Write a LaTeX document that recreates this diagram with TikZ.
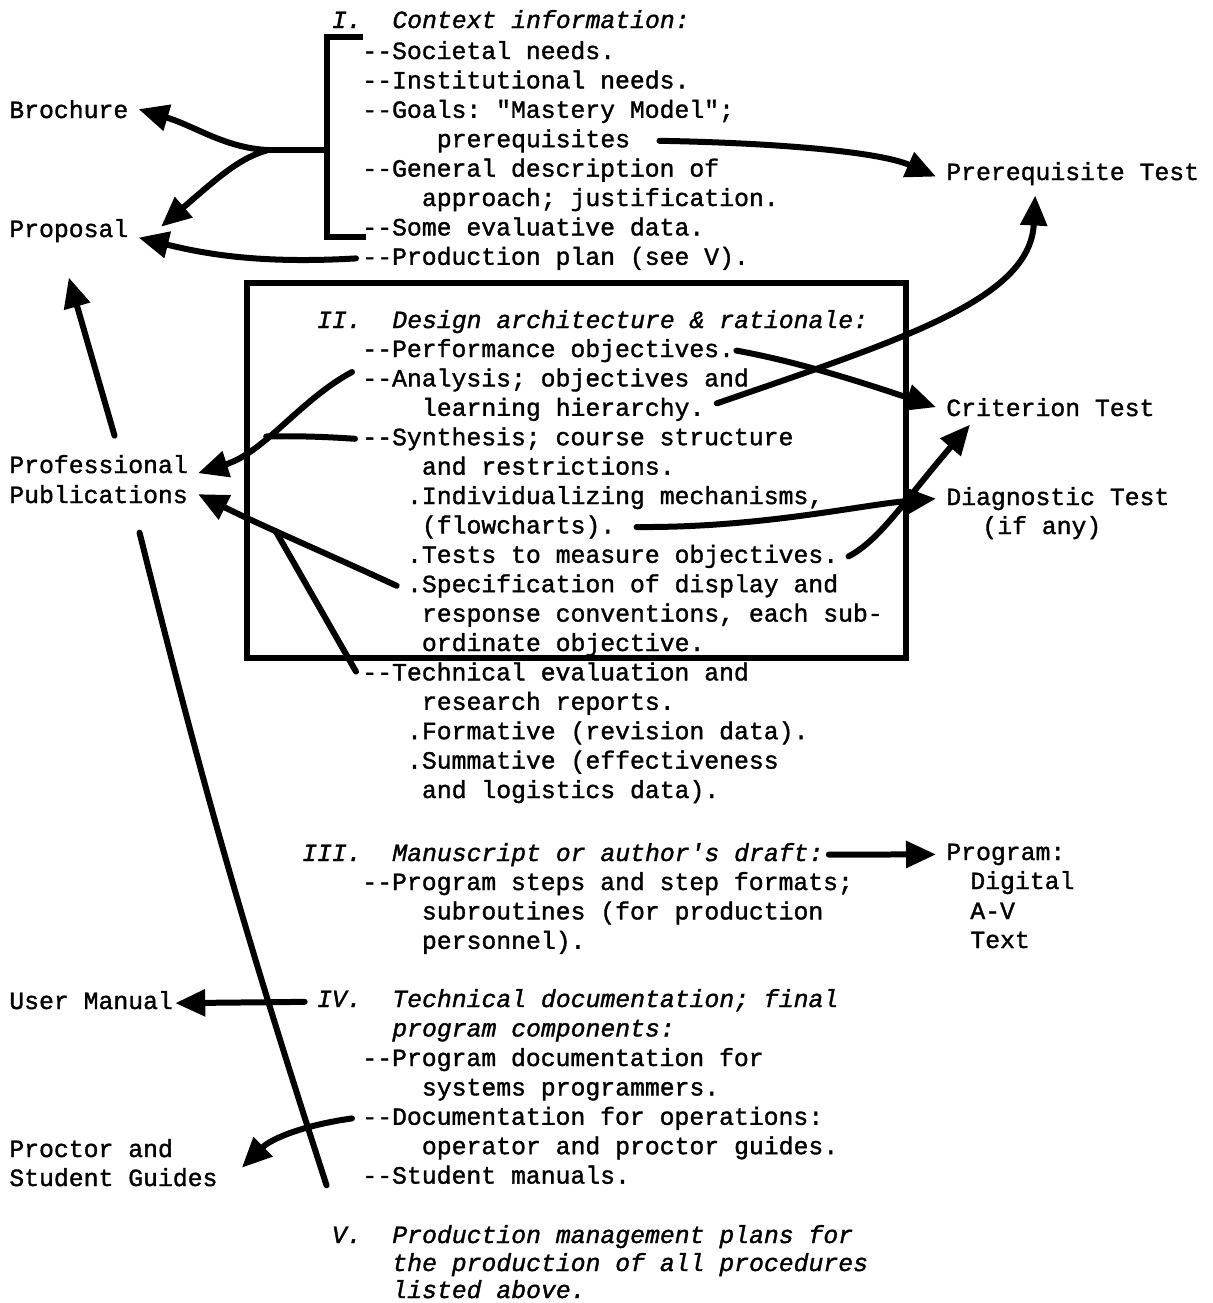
\documentclass[tikz,border=0pt]{standalone}
\usepackage{fontspec}
\setmonofont[FakeBold=1.4, ItalicFeatures={FakeBold=1.4}]{Liberation Mono}
\usetikzlibrary{arrows.meta}
\newcommand{\typesz}{\fontsize{14.1pt}{17pt}\selectfont}
\tikzset{
  txt/.style={anchor=base west, inner sep=0pt, font=\ttfamily\typesz},
  numeral/.style={anchor=base east, inner sep=0pt, font=\ttfamily\itshape\typesz},
  heading/.style={txt, font=\ttfamily\itshape\typesz},
  target/.style={txt, inner xsep=0.2cm},
  wire/.style={line width=0.12cm, line cap=round},
  flow/.style={wire, -{Triangle[length=0.6cm,width=0.52cm]}}
}
\begin{document}
\begin{tikzpicture}[x=0.02cm,y=-0.02cm]
    \useasboundingbox (0,0) rectangle (1213,1303);

    % Drawing outputs on the left
    \draw (-1,118) node [target] (brochure) {Brochure};%
    \draw (-1,237) node [target] (proposal) {Proposal};%
    \draw (-1,473) node [target] (professional) {Professional};%
    \draw (-1,503) node [target] (publications) {Publications};%
    \draw (7,1009) node [target, inner xsep=0.04cm] (usermanual) {User Manual};%
    \draw (9,1157) node [txt] (proctor) {Proctor and};%
    \draw (-1,1186) node [target] (student) {Student Guides};%

    % Drawing outputs on the right
    \draw (936,180) node [target] (prereqtest) {Prerequisite Test};%
    \draw (936,416) node [target] (critest) {Criterion Test};%
    \draw (936,505) node [target] (diagtest) {Diagnostic Test};%
    \draw (982,534) node [txt] (ifany) {(if any)};%
    \draw (936,860) node [target] (program) {Program:};%
    \draw (970,889) node [txt] (digital) {Digital};%
    \draw (970,919) node [txt] (av) {A-V};%
    \draw (970,948) node [txt] (text) {Text};%

    % Drawing section I
    \draw (362,28) node [numeral] (headI) {I.};%
    \draw (392,28) node [heading] (cxhead) {Context information:};%
    \draw (362,59) node [txt] (societal) {--Societal needs.};%
    \draw (362,88.4) node [txt] (institutional) {--Institutional needs.};%
    \draw (362,117.8) node [txt] (goals) {--Goals: "Mastery Model";};%
    \draw (436.5,147.2) node [txt] (prereq) {prerequisites};%
    \draw (362,176.6) node [txt] (general) {--General description of};%
    \draw (421.6,206) node [txt] (approach) {approach; justification.};%
    \draw (362,235.4) node [txt] (someeval) {--Some evaluative data.};%
    \draw (362,264.8) node [txt] (prodplan) {--Production plan (see V).};%

    % Drawing section II and its frame
    \draw [line width=0.12cm] (247,283) rectangle (906,658);%
    \draw (362,328) node [numeral] (headII) {II.};%
    \draw (392,328) node [heading] (dshead) {Design architecture \& rationale:};%
    \draw (362,357) node [txt] (perform) {--Performance objectives.};%
    \draw (362,386.4) node [txt] (analysis) {--Analysis; objectives and};%
    \draw (421.6,415.8) node [txt] (learning) {learning hierarchy.};%
    \draw (362,445.2) node [txt] (synth) {--Synthesis; course structure};%
    \draw (421.6,474.6) node [txt] (restrict) {and restrictions.};%
    \draw (406.7,504) node [txt] (individ) {.Individualizing mechanisms,};%
    \draw (421.6,533.4) node [txt] (flowch) {(flowcharts).};%
    \draw (406.7,562.8) node [txt] (tests) {.Tests to measure objectives.};%
    \draw (406.7,592.2) node [txt] (specif) {.Specification of display and};%
    \draw (421.6,621.6) node [txt] (respconv) {response conventions, each sub-};%
    \draw (421.6,651) node [txt] (ordinate) {ordinate objective.};%
    \draw (362,680.4) node [txt] (techeval) {--Technical evaluation and};%
    \draw (421.6,709.8) node [txt] (research) {research reports.};%
    \draw (406.7,739.2) node [txt] (formative) {.Formative (revision data).};%
    \draw (406.7,768.6) node [txt] (summative) {.Summative (effectiveness};%
    \draw (421.6,798) node [txt] (logistics) {and logistics data).};%

    % Drawing section III
    \draw (362,861) node [numeral] (headIII) {III.};%
    \draw (392,861) node [heading] (mshead) {Manuscript or author's draft:};%
    \draw (362,890) node [txt] (progsteps) {--Program steps and step formats;};%
    \draw (421.6,919.4) node [txt] (subrout) {subroutines (for production};%
    \draw (421.6,948.8) node [txt] (personnel) {personnel).};%

    % Drawing section IV
    \draw (362,1007) node [numeral] (headIV) {IV.};%
    \draw (392,1007) node [heading] (tdhead) {Technical documentation; final};%
    \draw (392,1036.4) node [heading] (tdhead2) {program components:};%
    \draw (362,1066) node [txt] (progdoc) {--Program documentation for};%
    \draw (421.6,1095.4) node [txt] (systems) {systems programmers.};%
    \draw (362,1124.8) node [txt] (docops) {--Documentation for operations:};%
    \draw (421.6,1154.2) node [txt] (operator) {operator and proctor guides.};%
    \draw (362,1183.6) node [txt] (stmanuals) {--Student manuals.};%

    % Drawing section V
    \draw (362,1243) node [numeral] (headV) {V.};%
    \draw (392,1243) node [heading] (pmhead) {Production management plans for};%
    \draw (392,1271) node [heading] (pmhead2) {the production of all procedures};%
    \draw (392,1298) node [heading] (pmhead3) {listed above.};%

    % Drawing bracket of section I and its arrows
    \draw [wire, line cap=butt] (363,37) -- (327,37) -- (327,237) -- (366,237);%
    \coordinate (brmid) at (327,150);
    \coordinate (brfork) at (268,150);
    \draw [wire] (brmid) -- (brfork);%
    \draw [flow] (brfork) .. controls (225,148) and (195,126) .. (brochure.east);%
    \draw [flow] (brfork) .. controls (240,158) and (222,174) .. ([shift={(0.45cm,-0.16cm)}]proposal.north east);%
    \draw [flow] ([xshift=-0.12cm]prodplan.west) .. controls (260,264) and (205,254) .. ([yshift=-0.14cm]proposal.east);%
    \draw [flow] ([xshift=0.58cm]prereq.east) .. controls (780,143) and (880,152) .. ([yshift=-0.06cm]prereqtest.west);%

    % Drawing arrows of section II
    \draw [flow] ([shift={(0.32cm,0.38cm)}]professional.north) -- ([yshift=-0.7cm]proposal.south);%
    \draw [flow] ([shift={(-0.2cm,0.16cm)}]analysis.west) .. controls (300,400) and (265,452) .. ([yshift=-0.18cm]professional.east) coordinate [pos=0.6] (anmerge);%
    \draw [wire] ([xshift=-0.14cm]synth.west) .. controls (315,436) and (285,436) .. (anmerge);%
    \draw [flow] ([xshift=-0.2cm]specif.west) .. controls (330,555) and (260,525) .. (publications.east) coordinate [pos=0.6] (spmerge);%
    \draw [wire] ([xshift=-0.12cm]techeval.west) -- (spmerge);%
    \draw [flow] ([xshift=0.04cm]perform.east) .. controls (800,362) and (870,385) .. (critest.west);%
    \draw [flow] ([shift={(0.24cm,0.12cm)}]learning.east) .. controls (900,340) and (1030,300) .. ([shift={(-0.75cm,-0.2cm)}]prereqtest.south);%
    \draw [flow] ([xshift=0.42cm]flowch.east) .. controls (760,528) and (860,505) .. (diagtest.west);%
    \draw [flow] ([xshift=0.2cm]tests.east) .. controls (880,540) and (905,500) .. ([shift={(0.68cm,-0.16cm)}]critest.south west);%

    % Drawing the long line and arrows of sections III, IV
    \draw [wire] ([shift={(0.82cm,-0.58cm)}]publications.south) to [bend right=2] ([shift={(-0.1cm,0.82cm)}]headV.north west);%
    \draw [flow] ([xshift=0.1cm]mshead.east) -- (program.west);%
    \draw [flow] ([shift={(-0.24cm,-0.06cm)}]headIV.west) -- ([yshift=-0.06cm]usermanual.east);%
    \draw [flow] ([xshift=-0.2cm]docops.west) .. controls (305,1125) and (272,1138) .. ([xshift=0.28cm]student.north east);%
\end{tikzpicture}
\end{document}
